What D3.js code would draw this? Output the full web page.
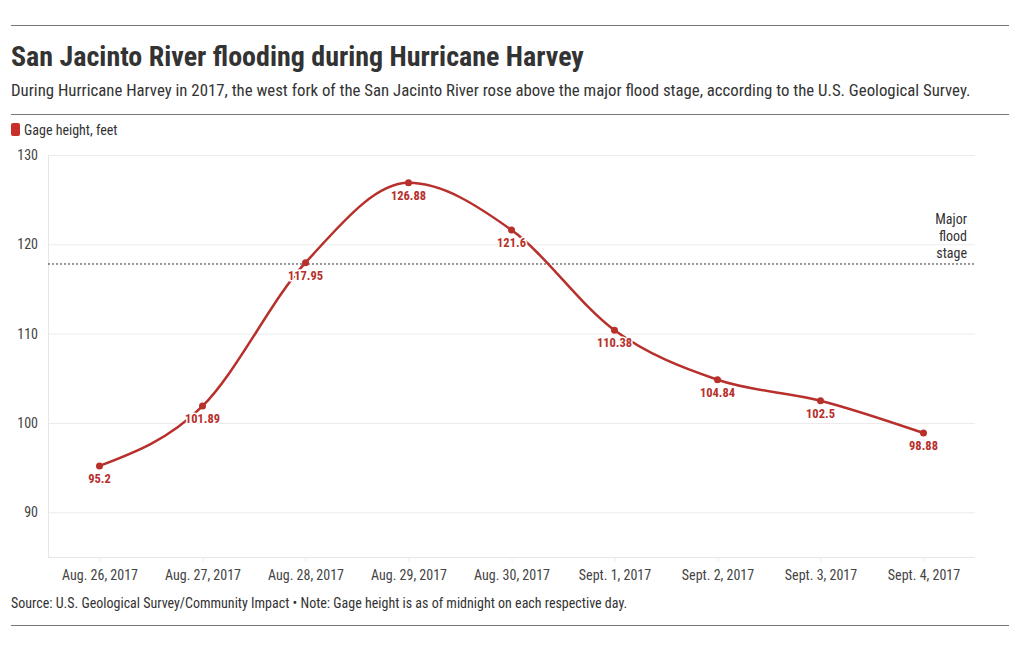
<!DOCTYPE html>
<html><head><meta charset="utf-8">
<script src="https://cdn.jsdelivr.net/npm/d3@7"></script>
<style>
body{margin:0;background:#fff;}
svg text{font-family:"Roboto Condensed","Liberation Sans Narrow","Roboto",sans-serif;}
</style></head>
<body><svg id="c" width="1020" height="650"></svg>
<script>
const categories = ["Aug. 26, 2017","Aug. 27, 2017","Aug. 28, 2017","Aug. 29, 2017","Aug. 30, 2017","Sept. 1, 2017","Sept. 2, 2017","Sept. 3, 2017","Sept. 4, 2017"];
const gageHeight = [95.2,101.89,117.95,126.88,121.6,110.38,104.84,102.5,98.88];
const yTicks = [90,100,110,120,130];
const majorFloodStage = 117.8;

const svg = d3.select("#c");
const red = "#b7302c";
const L = 48, R = 975, T = 155, B = 557;

svg.append("line").attr("x1",11).attr("x2",1009).attr("y1",25.5).attr("y2",25.5).attr("stroke","#777");
svg.append("text").attr("x",11).attr("y",66).attr("font-size",28).attr("font-weight","bold").attr("fill","#333")
  .text("San Jacinto River flooding during Hurricane Harvey");
svg.append("text").attr("x",11).attr("y",96).attr("font-size",16.8).attr("fill","#333")
  .text("During Hurricane Harvey in 2017, the west fork of the San Jacinto River rose above the major flood stage, according to the U.S. Geological Survey.");
svg.append("line").attr("x1",11).attr("x2",1009).attr("y1",114.5).attr("y2",114.5).attr("stroke","#777");
svg.append("rect").attr("x",11).attr("y",123).attr("width",9).attr("height",13).attr("rx",2).attr("fill","#c8302c");
svg.append("text").attr("x",24).attr("y",135).attr("font-size",14).attr("fill","#333").text("Gage height, feet");

const x = d3.scalePoint().domain(categories).range([L,R]).padding(0.5);
const y = d3.scaleLinear().domain([85,130]).range([B,T]);

// grid
svg.append("g").selectAll("line").data(yTicks).join("line")
  .attr("x1",L).attr("x2",R).attr("y1",d=>y(d)+0.5).attr("y2",d=>y(d)+0.5).attr("stroke","#ebebeb");
svg.append("line").attr("x1",L+0.5).attr("x2",L+0.5).attr("y1",T).attr("y2",B).attr("stroke","#e6e6e6");
svg.append("line").attr("x1",L).attr("x2",R).attr("y1",B+0.5).attr("y2",B+0.5).attr("stroke","#e6e6e6");

const yAxis = svg.append("g").attr("transform",`translate(${L},0)`)
  .call(d3.axisLeft(y).tickValues(yTicks).tickSize(0).tickPadding(10));
yAxis.select(".domain").remove();
yAxis.selectAll("text").attr("font-size",14).attr("fill","#444");

const xAxis = svg.append("g").attr("transform",`translate(0,${B})`)
  .call(d3.axisBottom(x).tickSize(5).tickPadding(8));
xAxis.select(".domain").remove();
xAxis.selectAll("line").attr("stroke","#eee");
xAxis.selectAll("text").attr("font-size",14).attr("fill","#444");

// major flood stage
svg.append("line").attr("x1",L).attr("x2",R).attr("y1",y(majorFloodStage)).attr("y2",y(majorFloodStage))
  .attr("stroke","#333").attr("stroke-dasharray","2,2").attr("stroke-width",1);
const fl = svg.append("text").attr("text-anchor","end").attr("font-size",14).attr("fill","#333");
["Major","flood","stage"].forEach((t,i)=>fl.append("tspan").attr("x",967).attr("y",y(majorFloodStage)-40+i*17).text(t));

const data = categories.map((c,i)=>({c,v:gageHeight[i]}));
svg.append("path").datum(data)
  .attr("d",d3.line().x(d=>x(d.c)).y(d=>y(d.v)).curve(d3.curveMonotoneX))
  .attr("fill","none").attr("stroke",red).attr("stroke-width",2.5);
svg.append("g").selectAll("circle").data(data).join("circle")
  .attr("cx",d=>x(d.c)).attr("cy",d=>y(d.v)).attr("r",3.5).attr("fill",red);
svg.append("g").selectAll("text").data(data).join("text")
  .attr("x",d=>x(d.c)).attr("y",d=>y(d.v)+17).attr("text-anchor","middle")
  .attr("font-size",12.5).attr("font-weight","bold").attr("fill",red)
  .attr("stroke","#fff").attr("stroke-width",3).attr("paint-order","stroke")
  .text(d=>d.v);

svg.append("text").attr("x",11).attr("y",608).attr("font-size",14).attr("fill","#333")
  .text("Source: U.S. Geological Survey/Community Impact • Note: Gage height is as of midnight on each respective day.");
svg.append("line").attr("x1",11).attr("x2",1009).attr("y1",625.5).attr("y2",625.5).attr("stroke","#777");
</script></body></html>
